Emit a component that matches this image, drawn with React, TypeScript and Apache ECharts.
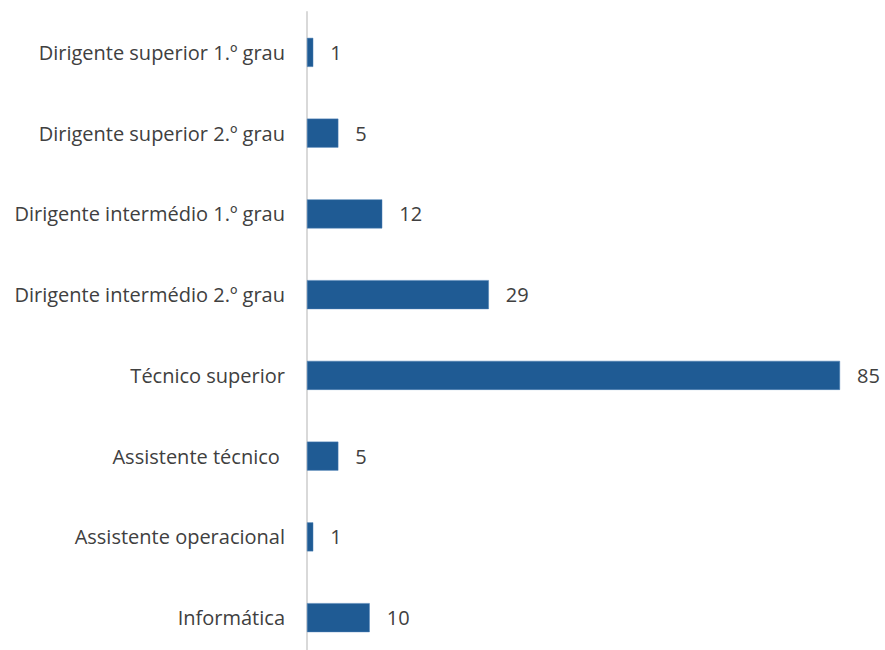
import React, { useEffect, useRef } from "react";
import * as echarts from "echarts";

const categories = [
  "Dirigente superior 1.º grau",
  "Dirigente superior 2.º grau",
  "Dirigente intermédio 1.º grau",
  "Dirigente intermédio 2.º grau",
  "Técnico superior",
  "Assistente técnico ",
  "Assistente operacional",
  "Informática",
];
const values = [1, 5, 12, 29, 85, 5, 1, 10];

export default function App() {
  const ref = useRef<HTMLDivElement>(null);
  useEffect(() => {
    if (!ref.current) return;
    const chart = echarts.init(ref.current, undefined, { renderer: "svg" });
    chart.setOption({
      animation: false,
      grid: { left: 307, top: 12, width: 533, height: 646, containLabel: false },
      xAxis: {
        type: "value",
        min: 0,
        max: 85,
        show: false,
      },
      yAxis: {
        type: "category",
        data: categories,
        inverse: true,
        axisLine: { show: true, lineStyle: { color: "#d9d9d9", width: 2 } },
        axisTick: { show: false },
        axisLabel: {
          color: "#404040",
          fontFamily: "Open Sans",
          fontSize: 20,
          margin: 22,
          padding: [0, 0, 3, 0],
        },
        splitLine: { show: false },
      },
      series: [
        {
          type: "bar",
          data: values,
          barWidth: 29,
          itemStyle: { color: "#1f5b94", borderColor: "#4a7fb5", borderWidth: 0.5 },
          label: {
            show: true,
            position: "right",
            distance: 17,
            color: "#404040",
            fontFamily: "Open Sans",
            fontSize: 20,
          },
        },
      ],
    });
    return () => chart.dispose();
  }, []);
  return (
    <div style={{ position: "absolute", left: 0, top: 0, width: 885, height: 650, overflow: "hidden" }}>
      <div ref={ref} style={{ width: 885, height: 670 }} />
    </div>
  );
}
